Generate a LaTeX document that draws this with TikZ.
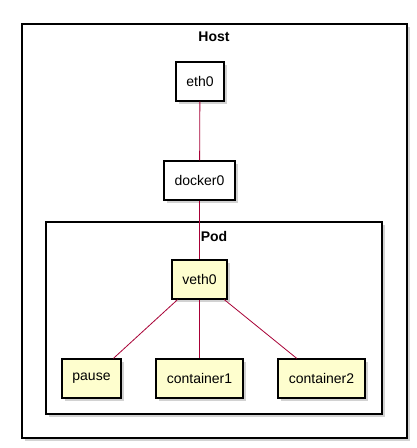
\documentclass[tikz,border=0pt]{standalone}
\usepackage{fontspec}
\setmainfont{Liberation Sans}
\usetikzlibrary{shadows}
\definecolor{link}{HTML}{A80036}
\definecolor{podfill}{HTML}{FEFECE}
\tikzset{
	frame/.style={draw=black, fill=white, line width=1.2pt, drop shadow={shadow xshift=3pt, shadow yshift=-3pt, opacity=0.35}},
	box/.style={draw=black, fill=white, text=black, line width=1.2pt, minimum height=39pt, inner sep=0pt, font=\fontsize{14}{16}\selectfont, drop shadow={shadow xshift=3pt, shadow yshift=-3pt, opacity=0.35}},
	podbox/.style={box, fill=podfill},
	title/.style={text=black, font=\bfseries\fontsize{14}{16}\selectfont}
}

\begin{document}
\begin{tikzpicture}[x=1pt, y=-1pt, draw=link, line width=0.8pt]
	\useasboundingbox (0,0) rectangle (416,448);
	\node [frame, minimum width=385pt, minimum height=414pt] (host) at (214.5,231) {};
	\node [title] (hostlabel) at (214,37) {Host};
	\node [frame, minimum width=336pt, minimum height=192pt] (pod) at (214,318) {};
	\node [title] (podlabel) at (214,236) {Pod};

	\node [box, minimum width=48pt] (eth0) at (200,81.5) {eth0};
	\node [box, minimum width=71pt] (docker0) at (199.5,180.5) {docker0};
	\node [podbox, minimum width=55pt] (veth0) at (199.5,279.5) {veth0};
	\node [podbox, minimum width=59pt] (pause) at (91.5,378.5) {pause};
	\node [podbox, minimum width=87pt] (c1) at (199.5,378.5) {container1};
	\node [podbox, minimum width=87pt] (c2) at (321.5,378.5) {container2};

	\draw (eth0) to (docker0);
	\draw (docker0) to (veth0);
	\draw (veth0) to (pause);
	\draw (veth0) to (c1);
	\draw (veth0) to (c2);
\end{tikzpicture}
\end{document}
